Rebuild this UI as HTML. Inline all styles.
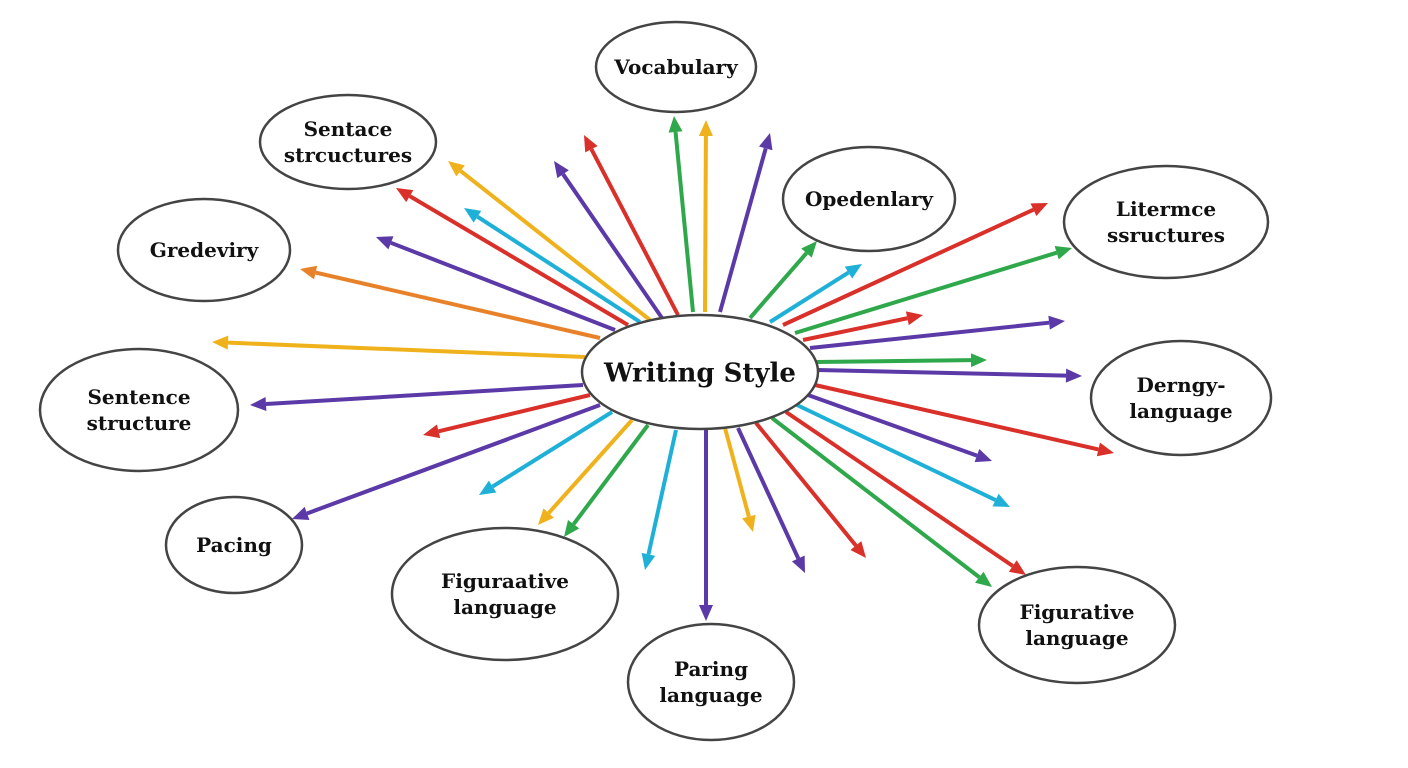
<!DOCTYPE html>
<html><head><meta charset="utf-8"><style>
html,body{margin:0;padding:0;background:#fff;}
svg{display:block;}
text{font-family:"DejaVu Serif","Liberation Serif",serif;font-weight:bold;fill:#111;text-anchor:middle;}
</style></head><body>
<svg id="c" width="1408" height="768" viewBox="0 0 1408 768">
<g id="arrows"></g>
<g id="nodes"></g>
</svg>
<script>
const arrowStarts=[[693,312],[705,312],[720,312],[678,315],[662,318],[650,320],[640,322],[628,325],[615,330],[600,338],[585,357],[583,385],[590,395],[600,405],[612,412],[632,420],[648,425],[676,430],[706,430],[725,428],[738,428],[756,423],[772,418],[786,412],[797,405],[808,395],[815,385],[818,370],[816,362],[810,348],[803,340],[795,333],[783,325],[770,322],[750,318]];
const arrowEnds=[[674,116],[706,120],[770,133],[584,135],[554,161],[448,161],[464,208],[396,188],[376,237],[300,269],[212,342],[250,405],[423,435],[292,519],[479,495],[538,525],[564,537],[645,570],[706,621],[753,532],[805,573],[866,558],[992,587],[1026,575],[1010,507],[992,461],[1114,453],[1082,376],[987,360],[1065,321],[923,315],[1072,248],[1048,203],[862,264],[817,241]];
const arrowColors=["green","yellow","purple","red","purple","yellow","cyan","red","purple","orange","yellow","purple","red","purple","cyan","yellow","green","cyan","purple","yellow","purple","red","green","red","cyan","purple","red","purple","green","purple","red","green","red","cyan","green"];
const palette={red:"#d9302a",green:"#2ea84a",yellow:"#f0b21c",purple:"#5b3aa8",cyan:"#1fb0d8",orange:"#e8822a"};
const nodeLabels=[["Vocabulary"],["Sentace","strcuctures"],["Opedenlary"],["Litermce","ssructures"],["Gredeviry"],["Sentence","structure"],["Derngy-","language"],["Pacing"],["Figuraative","language"],["Paring","language"],["Figurative","language"]];
const nodeCenters=[[676,67],[348,142],[869,199],[1166,222],[204,250],[139,410],[1181,398],[234,545],[505,594],[711,682],[1077,625]];
const nodeRadii=[[80,45],[88,47],[86,52],[102,56],[86,51],[99,61],[90,57],[68,48],[113,66],[83,58],[98,58]];
const NS="http://www.w3.org/2000/svg";
const ga=document.getElementById('arrows'),gn=document.getElementById('nodes');
arrowStarts.forEach((s,i)=>{
  const e=arrowEnds[i],col=palette[arrowColors[i]];
  const dx=e[0]-s[0],dy=e[1]-s[1],L=Math.hypot(dx,dy),ux=dx/L,uy=dy/L;
  const hl=16,hw=7,bx=e[0]-ux*hl,by=e[1]-uy*hl;
  const ln=document.createElementNS(NS,'line');
  
  
  ln.setAttribute('x1',s[0]);ln.setAttribute('y1',s[1]);ln.setAttribute('x2',bx);ln.setAttribute('y2',by);
  ln.setAttribute('stroke',col);ln.setAttribute('stroke-width',4);
  ga.appendChild(ln);
  const hd=document.createElementNS(NS,'polygon');
  
  
  hd.setAttribute('points',`${e[0]},${e[1]} ${bx-uy*hw},${by+ux*hw} ${bx+uy*hw},${by-ux*hw}`);
  hd.setAttribute('fill',col);
  ga.appendChild(hd);
});
function node(cx,cy,rx,ry,lines,fs,name){
  const g=document.createElementNS(NS,'g');
  
  
  const el=document.createElementNS(NS,'ellipse');
  el.setAttribute('cx',cx);el.setAttribute('cy',cy);el.setAttribute('rx',rx);el.setAttribute('ry',ry);
  el.setAttribute('fill','#fff');el.setAttribute('stroke','#444');el.setAttribute('stroke-width',2.5);
  g.appendChild(el);
  const lh=fs*1.3,y0=cy-(lines.length-1)*lh/2+fs*0.36;
  lines.forEach((t,k)=>{
    const tx=document.createElementNS(NS,'text');
    tx.setAttribute('x',cx);tx.setAttribute('y',y0+k*lh);tx.setAttribute('font-size',fs);
    tx.textContent=t;g.appendChild(tx);
  });
  gn.appendChild(g);
}
nodeLabels.forEach((l,i)=>node(nodeCenters[i][0],nodeCenters[i][1],nodeRadii[i][0],nodeRadii[i][1],l,20,'node-'+l.join('-').toLowerCase().replace(/[^a-z-]/g,'')));
node(700,372,118,57,["Writing Style"],26,'center-node');
</script>
</body></html>
